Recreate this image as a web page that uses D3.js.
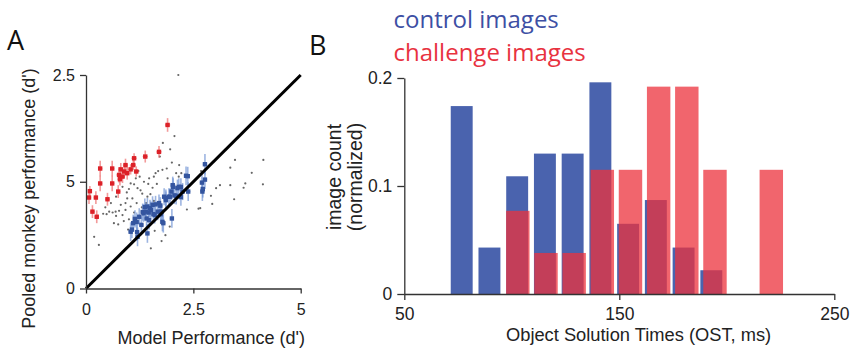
<!DOCTYPE html>
<html>
<head>
<meta charset="utf-8">
<script src="https://cdn.jsdelivr.net/npm/d3@7"></script>
<style>
  body { margin: 0; background: #fff; }
  svg { display: block; }
  .tick text { font-family: "Liberation Sans", Arial, sans-serif; fill: #222; }
  .axis path, .axis line { stroke: #333; stroke-width: 1.3; }
</style>
</head>
<body>
<div id="chart"></div>
<script>
// ---- panel A data: [model d', monkey d', x error, y error]
const challengePts = [
  [0.07, 2.13, 0.05, 0.15], [0.09, 2.28, 0.05, 0.12], [0.15, 1.80, 0.05, 0.15],
  [0.23, 2.13, 0.05, 0.15], [0.25, 1.68, 0.05, 0.15], [0.33, 2.81, 0.05, 0.18],
  [0.33, 2.46, 0.05, 0.18], [0.50, 2.09, 0.05, 0.15], [0.61, 2.81, 0.05, 0.18],
  [0.61, 2.46, 0.05, 0.18], [0.75, 2.27, 0.05, 0.15], [0.77, 2.66, 0.06, 0.18],
  [0.79, 2.56, 0.06, 0.15], [0.81, 2.79, 0.06, 0.15], [0.85, 2.62, 0.06, 0.15],
  [0.89, 2.74, 0.06, 0.15], [0.92, 2.89, 0.06, 0.15], [0.96, 2.70, 0.06, 0.15],
  [1.04, 2.79, 0.06, 0.12], [1.10, 2.89, 0.06, 0.12], [1.12, 3.05, 0.06, 0.12],
  [1.17, 2.74, 0.06, 0.12], [1.38, 3.09, 0.06, 0.14], [1.70, 3.20, 0.06, 0.14],
  [1.90, 3.83, 0.06, 0.16]
];
const controlPts = [
  [1.04, 1.33, 0.05, 0.22], [1.07, 1.38, 0.05, 0.20], [1.10, 1.53, 0.05, 0.20],
  [1.14, 1.63, 0.05, 0.20], [1.18, 1.56, 0.05, 0.22], [1.19, 1.32, 0.05, 0.20],
  [1.20, 1.21, 0.05, 0.22], [1.24, 1.68, 0.05, 0.20], [1.29, 1.49, 0.05, 0.20],
  [1.32, 1.79, 0.05, 0.20], [1.34, 1.76, 0.05, 0.20], [1.37, 1.91, 0.05, 0.20],
  [1.39, 1.80, 0.05, 0.20], [1.41, 1.64, 0.05, 0.20], [1.43, 1.29, 0.05, 0.22],
  [1.43, 1.92, 0.05, 0.20], [1.46, 1.78, 0.05, 0.20], [1.47, 1.60, 0.05, 0.22],
  [1.49, 1.88, 0.05, 0.20], [1.51, 1.84, 0.05, 0.20], [1.55, 1.96, 0.05, 0.20],
  [1.57, 1.74, 0.05, 0.20], [1.60, 1.72, 0.05, 0.20], [1.62, 1.97, 0.05, 0.20],
  [1.67, 1.80, 0.05, 0.20], [1.70, 2.00, 0.05, 0.20], [1.73, 1.94, 0.05, 0.20],
  [1.74, 1.74, 0.05, 0.22], [1.76, 1.80, 0.05, 0.20], [1.78, 1.56, 0.05, 0.22],
  [1.80, 1.53, 0.05, 0.22], [1.82, 2.15, 0.05, 0.20], [1.86, 2.07, 0.05, 0.20],
  [1.86, 2.12, 0.05, 0.20], [1.93, 2.15, 0.05, 0.20], [1.96, 2.15, 0.05, 0.20],
  [1.99, 2.27, 0.05, 0.20], [2.00, 1.64, 0.05, 0.22], [2.02, 2.42, 0.05, 0.20],
  [2.03, 2.38, 0.05, 0.20], [2.06, 2.18, 0.05, 0.20], [2.10, 2.17, 0.05, 0.20],
  [2.13, 2.35, 0.05, 0.20], [2.16, 2.38, 0.05, 0.20], [2.21, 2.38, 0.05, 0.20],
  [2.21, 2.14, 0.05, 0.20], [2.25, 2.27, 0.05, 0.20], [2.33, 2.64, 0.05, 0.22],
  [2.37, 2.63, 0.05, 0.22], [2.38, 2.27, 0.05, 0.22], [2.70, 2.48, 0.05, 0.20],
  [2.71, 2.27, 0.05, 0.22], [2.72, 2.33, 0.05, 0.20], [2.77, 2.55, 0.05, 0.22],
  [2.77, 2.91, 0.05, 0.24]
];
const otherPts = [
  [2.15, 5.00], [2.06, 3.57], [1.96, 3.26], [1.79, 3.41], [1.72, 3.09], [2.17, 2.89],
  [1.88, 2.81], [2.10, 2.70], [2.22, 2.70], [2.16, 2.62], [3.47, 3.01], [4.13, 3.01],
  [3.36, 2.83], [3.86, 2.71], [3.12, 2.42], [3.36, 2.42], [3.71, 2.46], [3.67, 2.36],
  [4.12, 2.44], [3.03, 2.35], [2.91, 2.17], [2.94, 1.98], [3.45, 2.09], [2.66, 1.88],
  [2.68, 2.75], [1.76, 1.11], [1.51, 0.94], [0.19, 1.21], [0.30, 1.02], [0.54, 1.80],
  [0.62, 1.78], [0.69, 1.80], [0.77, 1.82], [0.85, 1.72], [0.92, 1.84], [1.04, 2.46],
  [1.12, 2.44], [1.20, 2.35], [1.27, 2.30], [1.31, 2.22], [1.43, 2.15], [1.50, 2.21],
  [1.58, 2.05], [0.96, 2.11], [1.08, 2.11], [0.92, 2.00], [0.81, 1.96], [0.58, 2.00],
  [1.04, 1.92], [1.18, 2.00], [1.30, 1.90], [0.65, 1.53], [0.75, 1.50], [0.88, 1.58],
  [1.35, 2.50], [1.47, 2.58], [1.62, 2.70], [1.78, 2.78], [1.90, 2.58], [1.16, 2.58],
  [1.25, 2.62], [1.58, 2.62], [1.68, 2.75], [1.45, 2.45], [1.55, 2.36], [0.40, 1.75],
  [0.48, 1.74], [0.70, 1.70], [1.00, 1.62], [1.12, 1.78], [0.98, 1.38], [1.60, 1.35],
  [1.95, 1.45], [2.35, 1.85], [2.62, 1.87], [1.40, 2.00], [0.85, 2.38], [0.95, 2.25],
  [0.70, 2.15], [1.22, 2.75], [2.00, 2.95], [1.85, 1.25], [0.45, 1.90], [1.00, 2.33],
  [1.65, 2.45]
];
const unityLine = [[0, 0], [5, 5]];
const aTicksX = [0, 2.5, 5];
const aTickLabelsX = ["0", "2.5", "5"];
const aTicksY = [0, 2.5, 5];
const aTickLabelsY = ["0", "5", "2.5"];

// ---- panel B data: histogram bin centers (ms) and normalized counts
const controlBins = [76.7, 89.6, 102.5, 115.4, 128.3, 141.2, 154.1, 167.0, 179.9, 192.8];
const controlCounts = [0.174, 0.043, 0.109, 0.130, 0.130, 0.196, 0.065, 0.087, 0.043, 0.022];
const challengeBins = [102.8, 115.9, 129.0, 142.1, 155.2, 168.3, 181.4, 194.5, 220.7];
const challengeCounts = [0.077, 0.038, 0.038, 0.115, 0.115, 0.192, 0.192, 0.115, 0.115];
const bTicksX = [50, 150, 250];
const bTicksY = [0, 0.1, 0.2];
const bTickLabelsY = ["0", "0.1", "0.2"];

const blue = "#4a63ae", red = "rgb(236,50,60)";

const svg = d3.select("#chart").append("svg")
  .attr("width", 855).attr("height", 354)
  .style("background", "#fff");

// ================= Panel A =================
const xA = d3.scaleLinear().domain([0, 5]).range([86, 300.7]);
const yA = d3.scaleLinear().domain([0, 5]).range([288.5, 75]);

const gA = svg.append("g");

// other images (small gray dots)
gA.append("g").selectAll("circle")
  .data(otherPts).join("circle")
  .attr("cx", d => xA(d[0])).attr("cy", d => yA(d[1]))
  .attr("r", 1.1).attr("fill", "#666");

function errorPoints(data, barColor, dotColor) {
  const g = gA.append("g");
  g.selectAll("line.ey").data(data).join("line")
    .attr("x1", d => xA(d[0])).attr("x2", d => xA(d[0]))
    .attr("y1", d => yA(d[1] - d[3])).attr("y2", d => yA(d[1] + d[3]))
    .attr("stroke", barColor).attr("stroke-width", 1.6).attr("opacity", 0.7);
  g.selectAll("line.ex").data(data).join("line")
    .attr("x1", d => xA(d[0] - d[2])).attr("x2", d => xA(d[0] + d[2]))
    .attr("y1", d => yA(d[1])).attr("y2", d => yA(d[1]))
    .attr("stroke", barColor).attr("stroke-width", 1.4).attr("opacity", 0.7);
  g.selectAll("rect").data(data).join("rect")
    .attr("x", d => xA(d[0]) - 2.2).attr("y", d => yA(d[1]) - 2.2)
    .attr("width", 4.4).attr("height", 4.4)
    .attr("fill", dotColor);
}
errorPoints(controlPts, "#7597d6", "#34559f");
errorPoints(challengePts, "#ee7070", "#dc2128");

// unity line
gA.append("path")
  .datum(unityLine)
  .attr("d", d3.line().x(d => xA(d[0])).y(d => yA(d[1])))
  .attr("stroke", "#000").attr("stroke-width", 3).attr("fill", "none");

gA.append("g").attr("class", "axis")
  .attr("transform", "translate(0,288.5)")
  .call(d3.axisBottom(xA).tickValues(aTicksX)
    .tickFormat((d, i) => aTickLabelsX[i]).tickSize(5).tickSizeOuter(0).tickPadding(10.5))
  .call(g => g.selectAll("text").style("font-size", "16px"));

gA.append("g").attr("class", "axis")
  .attr("transform", "translate(86,0)")
  .call(d3.axisLeft(yA).tickValues(aTicksY)
    .tickFormat((d, i) => aTickLabelsY[i]).tickSize(6).tickSizeOuter(0).tickPadding(5))
  .call(g => g.selectAll("text").style("font-size", "16px"));

gA.append("text")
  .attr("x", 305).attr("y", 344)
  .attr("text-anchor", "end")
  .style("font-family", "'Liberation Sans', Arial, sans-serif").style("font-size", "18px")
  .attr("fill", "#222")
  .text("Model Performance (d')");

gA.append("text")
  .attr("transform", "translate(35,198.5) rotate(-90)")
  .attr("text-anchor", "middle")
  .style("font-family", "'Liberation Sans', Arial, sans-serif").style("font-size", "18px")
  .attr("fill", "#222")
  .text("Pooled monkey performance (d')");

svg.append("text")
  .attr("x", 7).attr("y", 50)
  .style("font-family", "'Open Sans', sans-serif").style("font-size", "27px")
  .attr("fill", "#111")
  .text("A");

// ================= Panel B =================
const xB = d3.scaleLinear().domain([50, 250]).range([404.3, 834.3]);
const yB = d3.scaleLinear().domain([0, 0.2]).range([294, 78]);
const gB = svg.append("g");

const blueW = 10.2, redW = 10.9;

gB.append("g").selectAll("rect")
  .data(controlBins).join("rect")
  .attr("x", d => xB(d - blueW / 2))
  .attr("width", d => xB(d + blueW / 2) - xB(d - blueW / 2))
  .attr("y", (d, i) => yB(controlCounts[i]))
  .attr("height", (d, i) => yB(0) - yB(controlCounts[i]))
  .attr("fill", blue);

gB.append("g").selectAll("rect")
  .data(challengeBins).join("rect")
  .attr("x", d => xB(d - redW / 2))
  .attr("width", d => xB(d + redW / 2) - xB(d - redW / 2))
  .attr("y", (d, i) => yB(challengeCounts[i]))
  .attr("height", (d, i) => yB(0) - yB(challengeCounts[i]))
  .attr("fill", red).attr("opacity", 0.75);

gB.append("g").attr("class", "axis")
  .attr("transform", "translate(0,294)")
  .call(d3.axisBottom(xB).tickValues(bTicksX).tickSize(6).tickSizeOuter(0).tickPadding(7.5))
  .call(g => g.selectAll("text").style("font-size", "17.5px"));

gB.append("g").attr("class", "axis")
  .attr("transform", "translate(404.3,0)")
  .call(d3.axisLeft(yB).tickValues(bTicksY)
    .tickFormat((d, i) => bTickLabelsY[i]).tickSize(7).tickSizeOuter(0).tickPadding(5))
  .call(g => g.selectAll("text").style("font-size", "17.5px"));

gB.append("text")
  .attr("x", 506).attr("y", 341)
  .style("font-family", "'Liberation Sans', Arial, sans-serif").style("font-size", "18.3px")
  .attr("fill", "#222")
  .text("Object Solution Times (OST, ms)");

const yTitle = gB.append("text")
  .attr("transform", "translate(341,177) rotate(-90)")
  .attr("text-anchor", "middle")
  .style("font-family", "'Liberation Sans', Arial, sans-serif").style("font-size", "19.5px")
  .attr("fill", "#222");
yTitle.append("tspan").attr("x", 0).attr("y", 0).text("image count");
yTitle.append("tspan").attr("x", 0).attr("y", 21).text("(normalized)");

svg.append("text")
  .attr("x", 309).attr("y", 55)
  .style("font-family", "'Open Sans', sans-serif").style("font-size", "27px")
  .attr("fill", "#111")
  .text("B");

// legend
svg.append("text")
  .attr("x", 393.5).attr("y", 28)
  .style("font-family", "'Open Sans', sans-serif").style("font-size", "24px")
  .attr("fill", "#3d4fa4")
  .text("control images");
svg.append("text")
  .attr("x", 393.5).attr("y", 61)
  .style("font-family", "'Open Sans', sans-serif").style("font-size", "24px")
  .attr("fill", "#e8323f")
  .text("challenge images");
</script>
</body>
</html>
